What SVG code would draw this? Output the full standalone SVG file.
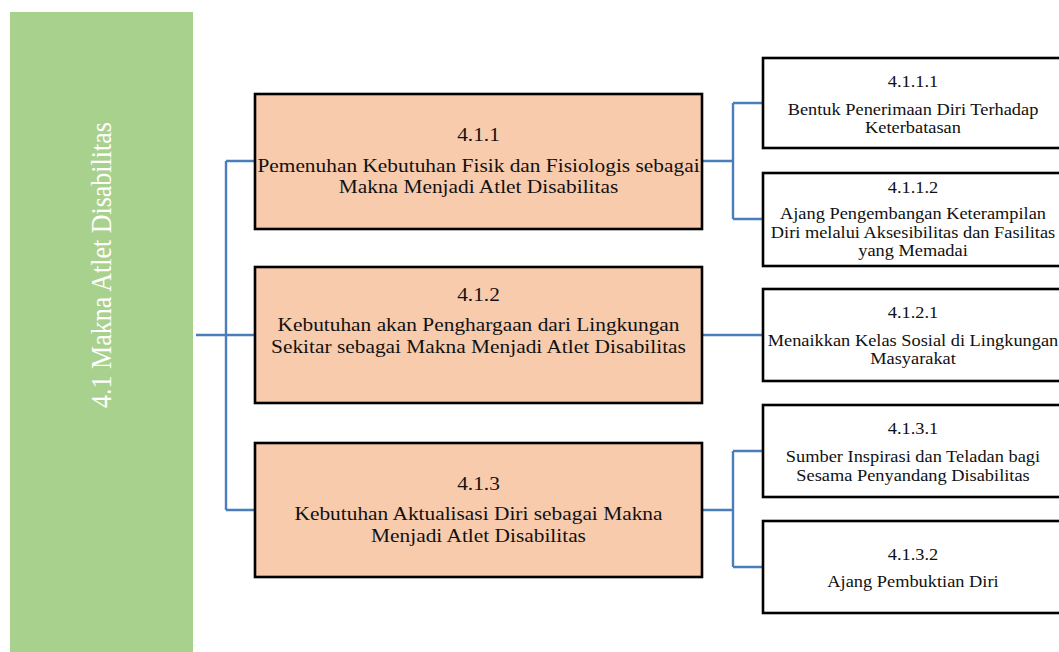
<svg xmlns="http://www.w3.org/2000/svg" width="1059" height="652" viewBox="0 0 1059 652">
  <style>
    .side { fill: #a9d18e; }
    .main { fill: #f8cbad; stroke: #000; stroke-width: 2.6; }
    .leaf { fill: #fff; stroke: #000; stroke-width: 2.6; }
    .wire { fill: none; stroke: #4a7ebb; stroke-width: 2.4; }
    text { font-family: "Liberation Serif", "Times New Roman", serif; fill: #111; text-anchor: middle; }
    .t-main { font-size: 19px; }
    .t-leaf { font-size: 17px; }
    .t-side { font-size: 26px; fill: #fff; }
  </style>

  <!-- root banner -->
  <g id="root">
    <rect class="side" x="10" y="12" width="183" height="640"/>
    <text class="t-side" transform="translate(111,265) scale(1.15,1) rotate(-90)" x="0" y="0">4.1 Makna Atlet Disabilitas</text>
  </g>

  <!-- connectors -->
  <g id="connectors">
    <path class="wire" d="M196,335 H226 M226,161 V510 M226,161 H255 M226,335 H255 M226,510 H255"/>
    <path class="wire" d="M702,161 H733 M733,103 V219 M733,103 H763 M733,219 H763"/>
    <path class="wire" d="M702,335 H763"/>
    <path class="wire" d="M702,510 H733 M733,451 V567 M733,451 H763 M733,567 H763"/>
  </g>

  <!-- second level -->
  <g id="n411">
    <rect class="main" x="255" y="94" width="447" height="135"/>
    <g transform="translate(478.5,0) scale(1.125,1)">
      <text class="t-main" x="0" y="141">4.1.1</text>
      <text class="t-main" x="0" y="172">Pemenuhan Kebutuhan Fisik dan Fisiologis sebagai</text>
      <text class="t-main" x="0" y="193">Makna Menjadi Atlet Disabilitas</text>
    </g>
  </g>
  <g id="n412">
    <rect class="main" x="255" y="267" width="447" height="136"/>
    <g transform="translate(478.5,0) scale(1.125,1)">
      <text class="t-main" x="0" y="301">4.1.2</text>
      <text class="t-main" x="0" y="331">Kebutuhan akan Penghargaan dari Lingkungan</text>
      <text class="t-main" x="0" y="353">Sekitar sebagai Makna Menjadi Atlet Disabilitas</text>
    </g>
  </g>
  <g id="n413">
    <rect class="main" x="255" y="443" width="447" height="134"/>
    <g transform="translate(478.5,0) scale(1.125,1)">
      <text class="t-main" x="0" y="490">4.1.3</text>
      <text class="t-main" x="0" y="520">Kebutuhan Aktualisasi Diri sebagai Makna</text>
      <text class="t-main" x="0" y="542">Menjadi Atlet Disabilitas</text>
    </g>
  </g>

  <!-- third level (boxes run past the right edge) -->
  <g id="n4111">
    <rect class="leaf" x="763" y="58" width="310" height="90"/>
    <g transform="translate(913,0) scale(1.08,1)">
      <text class="t-leaf" x="0" y="87">4.1.1.1</text>
      <text class="t-leaf" x="0" y="115">Bentuk Penerimaan Diri Terhadap</text>
      <text class="t-leaf" x="0" y="133">Keterbatasan</text>
    </g>
  </g>
  <g id="n4112">
    <rect class="leaf" x="763" y="173" width="310" height="93"/>
    <g transform="translate(913,0) scale(1.08,1)">
      <text class="t-leaf" x="0" y="193">4.1.1.2</text>
      <text class="t-leaf" x="0" y="219">Ajang Pengembangan Keterampilan</text>
      <text class="t-leaf" x="0" y="238">Diri melalui Aksesibilitas dan Fasilitas</text>
      <text class="t-leaf" x="0" y="256">yang Memadai</text>
    </g>
  </g>
  <g id="n4121">
    <rect class="leaf" x="763" y="289" width="310" height="92"/>
    <g transform="translate(913,0) scale(1.08,1)">
      <text class="t-leaf" x="0" y="318">4.1.2.1</text>
      <text class="t-leaf" x="0" y="346">Menaikkan Kelas Sosial di Lingkungan</text>
      <text class="t-leaf" x="0" y="364">Masyarakat</text>
    </g>
  </g>
  <g id="n4131">
    <rect class="leaf" x="763" y="405" width="310" height="92"/>
    <g transform="translate(913,0) scale(1.08,1)">
      <text class="t-leaf" x="0" y="434">4.1.3.1</text>
      <text class="t-leaf" x="0" y="462">Sumber Inspirasi dan Teladan bagi</text>
      <text class="t-leaf" x="0" y="481">Sesama Penyandang Disabilitas</text>
    </g>
  </g>
  <g id="n4132">
    <rect class="leaf" x="763" y="521" width="310" height="92"/>
    <g transform="translate(913,0) scale(1.08,1)">
      <text class="t-leaf" x="0" y="560">4.1.3.2</text>
      <text class="t-leaf" x="0" y="587">Ajang Pembuktian Diri</text>
    </g>
  </g>
</svg>
